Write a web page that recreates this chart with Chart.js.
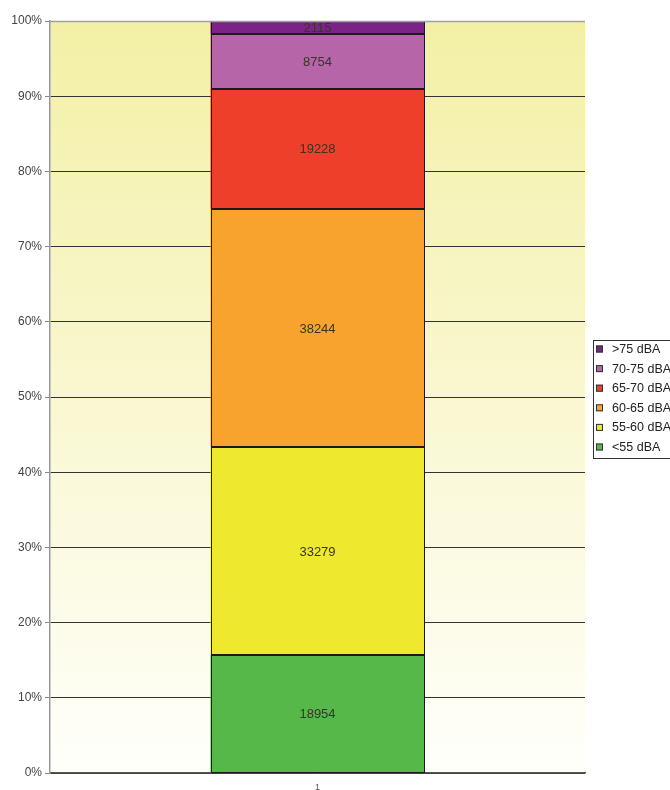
<!DOCTYPE html>
<html>
<head>
<meta charset="utf-8">
<script src="https://cdn.jsdelivr.net/npm/chart.js@4/dist/chart.umd.min.js"></script>
<style>
  html, body { margin: 0; padding: 0; background: #fff; }
  #wrap { width: 670px; height: 790px; position: relative; }
</style>
</head>
<body>
<div id="wrap"><canvas id="noiseChart"></canvas></div>
<script>
// Categories and noise band counts (bottom to top)
const categories = ["1"];
const bandLabels = ["<55 dBA", "55-60 dBA", "60-65 dBA", "65-70 dBA", "70-75 dBA", ">75 dBA"];
const bandCounts = [18954, 33279, 38244, 19228, 8754, 2115];
const bandColors = ["#55b848", "#eee92e", "#f9a32f", "#ee3f2a", "#b565a8", "#7b2387"];
const yTicks = [0, 10, 20, 30, 40, 50, 60, 70, 80, 90, 100];

const total = bandCounts.reduce((a, b) => a + b, 0);

// Plot background: pale yellow fading to white, plus top border
const plotBackground = {
  id: "plotBackground",
  beforeDraw(chart) {
    const { ctx, chartArea: a } = chart;
    const g = ctx.createLinearGradient(0, a.top, 0, a.bottom);
    g.addColorStop(0, "#f3f0a5");
    g.addColorStop(1, "#fffffb");
    ctx.save();
    ctx.fillStyle = g;
    ctx.fillRect(a.left, a.top, a.right - a.left, a.bottom - a.top);
    ctx.restore();
  },
  afterDraw(chart) {
    const { ctx, chartArea: a } = chart;
    ctx.save();
    ctx.strokeStyle = "#a0a0a0";
    ctx.lineWidth = 1.5;
    ctx.beginPath();
    ctx.moveTo(a.left, a.top + 0.5);
    ctx.lineTo(a.right, a.top + 0.5);
    ctx.stroke();
    ctx.restore();
  }
};

// Count labels in the middle of each segment
const segmentLabels = {
  id: "segmentLabels",
  afterDatasetsDraw(chart) {
    const { ctx } = chart;
    ctx.save();
    ctx.font = "13px 'Liberation Sans', Arial, sans-serif";
    ctx.fillStyle = "#3a3428";
    ctx.textAlign = "center";
    ctx.textBaseline = "middle";
    chart.data.datasets.forEach((ds, i) => {
      chart.getDatasetMeta(i).data.forEach((bar) => {
        const mid = (bar.y + bar.base) / 2;
        ctx.fillText(String(ds.counts[0]), bar.x, mid + 1);
      });
    });
    ctx.restore();
  }
};

// Boxed legend on the right, top band first
const boxLegend = {
  id: "boxLegend",
  afterDraw(chart) {
    const { ctx } = chart;
    const x = 593, y = 340, w = 90, h = 118;
    ctx.save();
    ctx.fillStyle = "#fff";
    ctx.fillRect(x, y, w, h);
    ctx.strokeStyle = "#333";
    ctx.lineWidth = 1;
    ctx.strokeRect(x + 0.5, y + 0.5, w, h);
    ctx.font = "12.5px 'Liberation Sans', Arial, sans-serif";
    ctx.textBaseline = "middle";
    const items = chart.data.datasets.slice().reverse();
    items.forEach((ds, i) => {
      const cy = y + 9.5 + i * 19.6;
      ctx.fillStyle = ds.backgroundColor;
      ctx.fillRect(x + 3, cy - 4, 7, 7);
      ctx.strokeStyle = "#333";
      ctx.strokeRect(x + 3.5, cy - 3.5, 6, 6);
      ctx.fillStyle = "#222";
      ctx.fillText(ds.label, x + 19, cy);
    });
    ctx.restore();
  }
};

// Dark outlines around each segment
const segmentOutlines = {
  id: "segmentOutlines",
  afterDatasetsDraw(chart) {
    const { ctx } = chart;
    ctx.save();
    ctx.strokeStyle = "#1a1a1a";
    ctx.lineWidth = 1;
    chart.data.datasets.forEach((ds, i) => {
      chart.getDatasetMeta(i).data.forEach((bar) => {
        const l = Math.round(bar.x - bar.width / 2) + 0.5;
        const r = Math.round(bar.x + bar.width / 2) - 0.5;
        const t = Math.round(bar.y) + 0.5;
        const b = Math.round(bar.base) - 0.5;
        ctx.strokeRect(l, t, r - l, b - t);
      });
    });
    ctx.restore();
  }
};

const ctx = document.getElementById("noiseChart").getContext("2d");
new Chart(ctx, {
  type: "bar",
  data: {
    labels: categories,
    datasets: bandLabels.map((label, i) => ({
      label: label,
      counts: [bandCounts[i]],
      data: [bandCounts[i] / total * 100],
      backgroundColor: bandColors[i],
      borderWidth: 0,
      barPercentage: 0.4,
      categoryPercentage: 1.0
    }))
  },
  options: {
    responsive: true,
    maintainAspectRatio: false,
    animation: false,
    layout: { padding: { top: 21, right: 85, left: 0, bottom: 0 } },
    plugins: {
      legend: { display: false },
      tooltip: { enabled: false }
    },
    scales: {
      x: {
        stacked: true,
        grid: { display: false, drawTicks: false },
        border: { color: "#555", width: 1.5 },
        ticks: {
          color: "#555",
          padding: 9,
          font: { size: 9, family: "'Liberation Sans', Arial, sans-serif" }
        },
        afterFit: (s) => { s.height = 17; }
      },
      y: {
        stacked: true,
        min: 0,
        max: 100,
        afterBuildTicks: (s) => { s.ticks = yTicks.map((v) => ({ value: v })); },
        grid: { color: "#333", tickColor: "#888", tickLength: 5, lineWidth: 1 },
        border: { color: "#999", width: 1.5 },
        ticks: {
          color: "#444",
          padding: 3,
          font: { size: 12, family: "'Liberation Sans', Arial, sans-serif" },
          callback: (v) => v + "%"
        },
        afterFit: (s) => { s.width = 50; }
      }
    }
  },
  plugins: [plotBackground, segmentLabels, segmentOutlines, boxLegend]
});
</script>
</body>
</html>
